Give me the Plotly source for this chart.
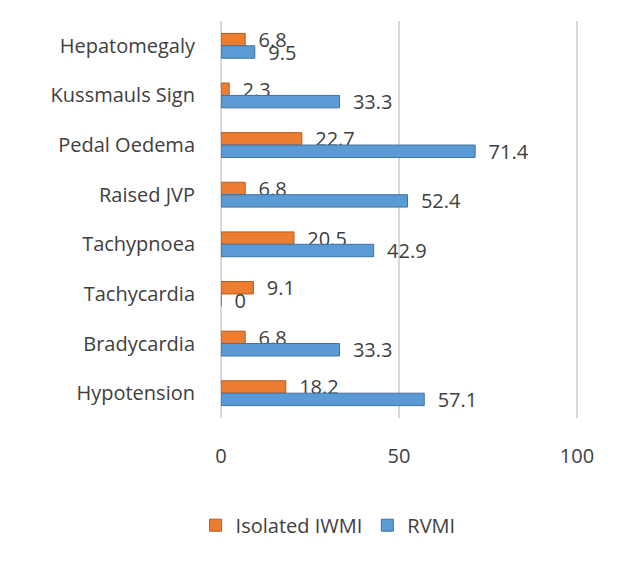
import plotly.graph_objects as go

categories = ["Hepatomegaly", "Kussmauls Sign", "Pedal Oedema", "Raised JVP",
              "Tachypnoea", "Tachycardia", "Bradycardia", "Hypotension"]
isolated_iwmi = [6.8, 2.3, 22.7, 6.8, 20.5, 9.1, 6.8, 18.2]
rvmi = [9.5, 33.3, 71.4, 52.4, 42.9, 0, 33.3, 57.1]
x_ticks = [0, 50, 100]

font_family = "Open Sans, Noto Sans, sans-serif"
txt_color = "#404040"
fs = 20

fig = go.Figure()
fig.add_trace(go.Bar(
    y=categories, x=isolated_iwmi, orientation="h", name="Isolated IWMI",
    marker=dict(color="#ED7D31", line=dict(color="#B55A1D", width=1)),
    text=[str(v) for v in isolated_iwmi], texttemplate="  %{text}", textposition="outside",
    constraintext="none",
    textfont=dict(size=fs, color=txt_color, family=font_family),
    cliponaxis=False,
))
fig.add_trace(go.Bar(
    y=categories, x=rvmi, orientation="h", name="RVMI",
    marker=dict(color="#5B9BD5", line=dict(color="#3E72A3", width=1)),
    text=[str(v) for v in rvmi], texttemplate="  %{text}", textposition="outside",
    constraintext="none",
    textfont=dict(size=fs, color=txt_color, family=font_family),
    cliponaxis=False,
))

fig.update_layout(
    width=624, height=562,
    margin=dict(l=213, r=54, t=13, b=152),
    paper_bgcolor="white", plot_bgcolor="white",
    barmode="group", bargap=0.5, bargroupgap=0,
    font=dict(family=font_family, size=fs, color=txt_color),
    showlegend=True,
    legend=dict(orientation="h", x=0.30, xanchor="center", y=-0.27, yanchor="middle",
                font=dict(size=fs, color=txt_color), traceorder="normal"),
    xaxis=dict(range=[0, 100.3], tickvals=x_ticks, showgrid=True, gridcolor="#D9D9D9",
               gridwidth=2, zeroline=True, zerolinecolor="#D9D9D9", zerolinewidth=2,
               ticks="outside", ticklen=20, tickcolor="rgba(0,0,0,0)",
               tickfont=dict(size=fs, color=txt_color), fixedrange=True, automargin=False),
    yaxis=dict(categoryorder="array", categoryarray=categories, autorange="reversed",
               showgrid=False, ticks="outside", ticklen=21, tickcolor="rgba(0,0,0,0)",
               tickfont=dict(size=fs, color=txt_color), automargin=False),
)

fig.write_html("out.html")
